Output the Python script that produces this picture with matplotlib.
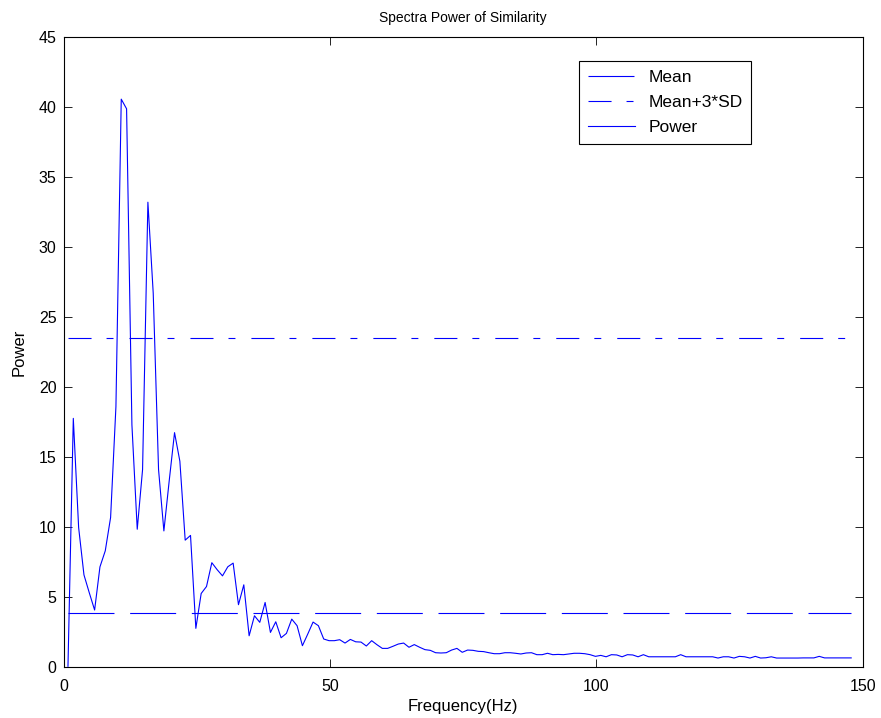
import numpy as np
import matplotlib
matplotlib.use("Agg")
import matplotlib.pyplot as plt

plt.rcParams['font.family'] = ['Liberation Sans', 'DejaVu Sans']
plt.rcParams['lines.scale_dashes'] = False

# Data
freq_start = 0.84
freq_step = 1.0
power = [
    0.05, 17.76, 9.96, 6.58, 5.3, 4.07, 7.15, 8.3, 10.68, 18.6,
    40.56, 39.87, 17.3, 9.84, 14.1, 33.2, 26.7, 14.1, 9.72, 13.3,
    16.74, 14.7, 9.06, 9.4, 2.76, 5.25, 5.75, 7.45, 6.95, 6.51,
    7.16, 7.42, 4.45, 5.87, 2.23, 3.66, 3.19, 4.61, 2.47, 3.23,
    2.09, 2.4, 3.42, 2.95, 1.52, 2.35, 3.21, 2.95, 2.0, 1.88,
    1.88, 1.95, 1.71, 1.97, 1.8, 1.78, 1.5, 1.88, 1.59, 1.33,
    1.33, 1.48, 1.64, 1.71, 1.41, 1.6, 1.41, 1.24, 1.19, 1.02,
    1.0, 1.02, 1.21, 1.33, 1.05, 1.21, 1.19, 1.12, 1.1, 1.02,
    0.95, 0.95, 1.02, 1.02, 0.98, 0.93, 1.0, 1.02, 0.88, 0.88,
    0.98, 0.88, 0.9, 0.88, 0.93, 0.98, 0.98, 0.95, 0.88, 0.76,
    0.83, 0.73, 0.88, 0.86, 0.73, 0.88, 0.86, 0.73, 0.88, 0.73,
    0.73, 0.73, 0.73, 0.73, 0.73, 0.88, 0.73, 0.73, 0.73, 0.73,
    0.73, 0.73, 0.64, 0.73, 0.73, 0.64, 0.76, 0.73, 0.64, 0.76,
    0.64, 0.66, 0.73, 0.64, 0.64, 0.64, 0.64, 0.64, 0.65, 0.65,
    0.65, 0.76, 0.65, 0.65, 0.65, 0.65, 0.65, 0.65,
]
mean_value = 3.83
mean_3sd_value = 23.5

freq = freq_start + freq_step * np.arange(len(power))

fig = plt.figure(figsize=(8.81, 7.18), dpi=100)
ax = fig.add_axes([63.5 / 881, 51 / 718, (862.7 - 63.5) / 881, (667 - 37) / 718])

lw = 0.8
ax.plot(freq, np.full_like(freq, mean_value), color='b', lw=lw,
        dashes=(33.1, 11.3), label='Mean')
ax.plot(freq, np.full_like(freq, mean_3sd_value), color='b', lw=lw,
        dashes=(16.6, 10.8, 5.0, 11.5), label='Mean+3*SD')
ax.plot(freq, power, color='b', lw=lw, label='Power')

ax.set_xlim(0, 150)
ax.set_ylim(0, 45)
ax.set_xticks([0, 50, 100, 150])
ax.set_yticks(np.arange(0, 46, 5))
ax.tick_params(direction='in', length=5.8, width=0.6, top=True, right=True,
               labelsize=11.5)
ax.tick_params(axis='x', pad=8.5)
ax.tick_params(axis='y', pad=5)
for s in ax.spines.values():
    s.set_linewidth(0.8)

ax.set_title('Spectra Power of Similarity', fontsize=10, pad=11)
ax.set_xlabel('Frequency(Hz)', fontsize=12, labelpad=4)
ax.set_ylabel('Power', fontsize=12, labelpad=9)

leg = ax.legend(loc='upper left', bbox_to_anchor=(579 / 881, 1 - 61 / 718),
                bbox_transform=fig.transFigure, borderaxespad=0,
                fancybox=False, fontsize=12.5, handlelength=2.7,
                handletextpad=0.8, labelspacing=0.57, borderpad=0.5,
                framealpha=1)
leg.get_frame().set_edgecolor('black')
leg.get_frame().set_linewidth(0.8)

fig.savefig('out.png', dpi=100)
